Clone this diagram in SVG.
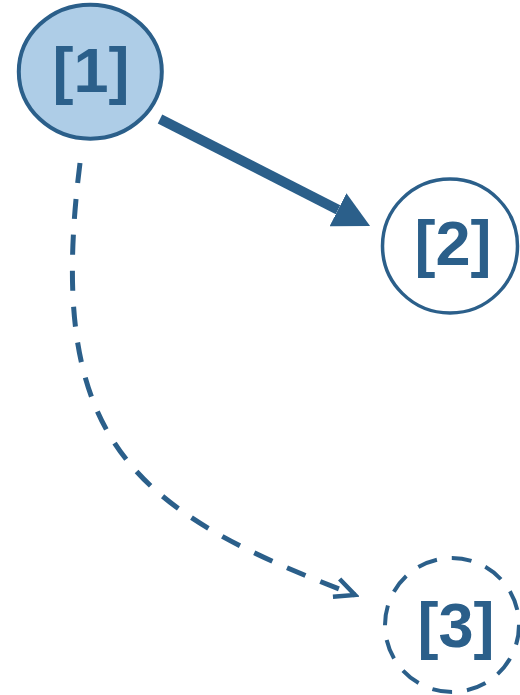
<svg xmlns="http://www.w3.org/2000/svg" width="520" height="695" viewBox="0 0 520 695">
<style>
.lbl{font-family:"Liberation Sans",Arial,sans-serif;font-weight:bold;font-size:63px;fill:#2b5f8a;text-anchor:middle}
.node{stroke:#2b5f8a}
.solid{fill:none;stroke:#2b5f8a;stroke-width:10}
.dash{fill:none;stroke:#2b5f8a;stroke-width:5;stroke-dasharray:20 16}
</style>
<defs>
<marker id="headFilled" markerUnits="userSpaceOnUse" viewBox="0 0 36 37" refX="0" refY="18.5" markerWidth="36" markerHeight="37" orient="auto">
<path d="M0,0 L36,18.5 L0,37 Z" fill="#2b5f8a"/>
</marker>
<marker id="headOpen" markerUnits="userSpaceOnUse" viewBox="-4 -4 28 28" refX="20" refY="9.5" markerWidth="28" markerHeight="28" orient="auto">
<path d="M0,0 L20,9.5 L0,19" fill="none" stroke="#2b5f8a" stroke-width="4.5" stroke-dasharray="none"/>
</marker>
</defs>
<g id="connectors">
<path class="solid" d="M160,119 L338,209.7" marker-end="url(#headFilled)"/>
<path class="dash" d="M80,163 C45,440 130,510 355,595" marker-end="url(#headOpen)"/>
</g>
<g id="node1">
<ellipse class="node" cx="90.3" cy="71.7" rx="71.5" ry="67" fill="#aecde7" stroke-width="4"/>
<text class="lbl" x="91" y="92">[1]</text>
</g>
<g id="node2">
<ellipse class="node" cx="450" cy="246" rx="67.5" ry="67" fill="#ffffff" stroke-width="3.5"/>
<text class="lbl" x="453" y="265">[2]</text>
</g>
<g id="node3">
<ellipse class="node" cx="452" cy="625" rx="67" ry="67" fill="#ffffff" stroke-width="4" stroke-dasharray="20 15"/>
<text class="lbl" x="456" y="647">[3]</text>
</g>
</svg>
